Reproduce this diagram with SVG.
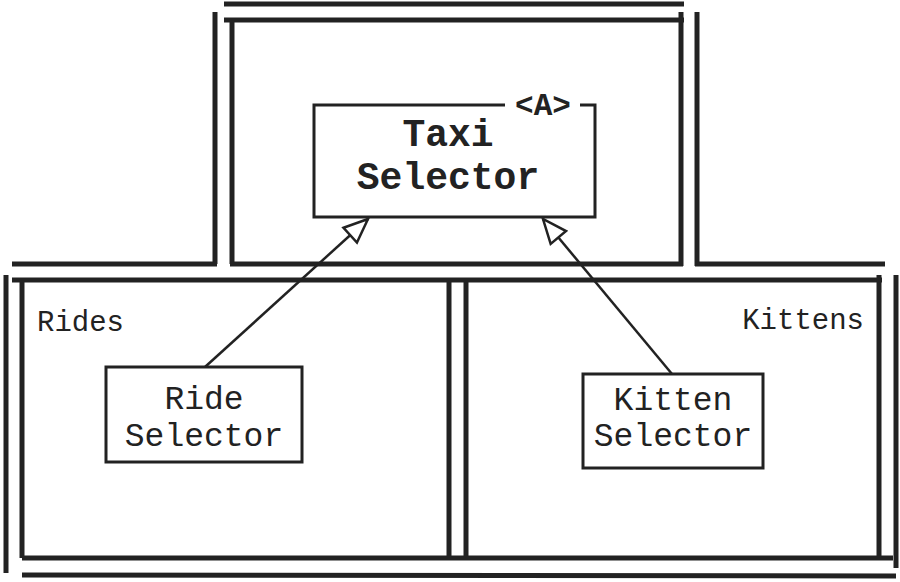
<svg xmlns="http://www.w3.org/2000/svg" width="900" height="582" viewBox="0 0 900 582">
  <style>
    .frame { stroke: #222; stroke-width: 5; fill: none; stroke-linecap: butt; }
    .box { stroke: #222; stroke-width: 3; fill: #fff; }
    .conn { stroke: #222; stroke-width: 2.5; fill: none; }
    .t { font-family: "Liberation Mono", "Courier New", monospace; fill: #222; text-anchor: middle; }
    .lbl { font-family: "Liberation Mono", "Courier New", monospace; fill: #222; font-size: 29px; }
  </style>
  <defs>
    <marker id="open" markerUnits="userSpaceOnUse" viewBox="0 0 28 24" refX="26" refY="12" markerWidth="28" markerHeight="24" orient="auto">
      <path d="M2,2 L26,12 L2,22 Z" fill="#fff" stroke="#222" stroke-width="2.5" stroke-linejoin="miter"/>
    </marker>
  </defs>
  <rect width="900" height="582" fill="#fff"/>

  <g id="frame-top">
    <line class="frame" x1="224" y1="4" x2="684" y2="4"/>
    <line class="frame" x1="224" y1="20" x2="684" y2="20"/>
    <line class="frame" x1="215" y1="12" x2="215" y2="264"/>
    <line class="frame" x1="232" y1="18" x2="232" y2="264"/>
    <line class="frame" x1="681" y1="12" x2="681" y2="266"/>
    <line class="frame" x1="697" y1="12" x2="697" y2="266"/>
  </g>

  <g id="frame-middle">
    <line class="frame" x1="12" y1="264" x2="217" y2="264"/>
    <line class="frame" x1="230" y1="264" x2="683" y2="264"/>
    <line class="frame" x1="695" y1="264" x2="885" y2="264"/>
    <line class="frame" x1="12" y1="280" x2="882" y2="280"/>
  </g>

  <g id="rides-region">
    <line class="frame" x1="6" y1="275" x2="6" y2="573"/>
    <line class="frame" x1="22" y1="278" x2="22" y2="558"/>
    <line class="frame" x1="449" y1="280" x2="449" y2="558"/>
    <text class="lbl" x="37" y="331">Rides</text>
  </g>

  <g id="kittens-region">
    <line class="frame" x1="466" y1="280" x2="466" y2="558"/>
    <line class="frame" x1="879" y1="275" x2="879" y2="558"/>
    <line class="frame" x1="896" y1="275" x2="896" y2="568"/>
    <text class="lbl" x="864" y="329" text-anchor="end">Kittens</text>
  </g>

  <g id="frame-bottom">
    <line class="frame" x1="22" y1="558" x2="893" y2="558"/>
    <line class="frame" x1="22" y1="575" x2="896" y2="576"/>
  </g>

  <g id="connectors">
    <line class="conn" x1="205" y1="367" x2="368" y2="219" marker-end="url(#open)"/>
    <line class="conn" x1="672" y1="374" x2="543" y2="219" marker-end="url(#open)"/>
  </g>

  <g id="taxi-selector">
    <path d="M505,105 L314,105 L314,217 L595,217 L595,105 L580,105" class="box" fill="#fff"/>
    <text class="t" x="543" y="115" font-size="31" font-weight="bold">&lt;A&gt;</text>
    <text class="t" x="448" y="146" font-size="38" font-weight="bold">Taxi</text>
    <text class="t" x="448" y="189" font-size="38" font-weight="bold">Selector</text>
  </g>

  <g id="ride-selector">
    <rect class="box" x="106" y="367" width="196" height="95"/>
    <text class="t" x="204" y="409" font-size="33">Ride</text>
    <text class="t" x="204" y="446" font-size="33">Selector</text>
  </g>

  <g id="kitten-selector">
    <rect class="box" x="583" y="374" width="180" height="94"/>
    <text class="t" x="673" y="410" font-size="33">Kitten</text>
    <text class="t" x="673" y="446" font-size="33">Selector</text>
  </g>
</svg>
